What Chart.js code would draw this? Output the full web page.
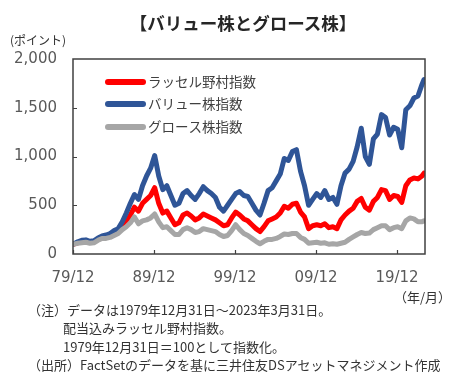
<!DOCTYPE html>
<html lang="ja">
<head>
<meta charset="UTF-8">
<title>バリュー株とグロース株</title>
<script src="https://cdn.jsdelivr.net/npm/chart.js"></script>
<style>
    body { margin: 0; background: #fff; }
    #wrap { position: relative; width: 473px; height: 377px; font-family: "Noto Sans CJK JP", sans-serif; color: #333; }
    #chart { position: absolute; left: 0; top: 0; }
    .txt { position: absolute; white-space: nowrap; line-height: 18px; font-size: 13px; }
    #title { left: 0; width: 486px; top: 10px; text-align: center; font-size: 17.5px; font-weight: bold; line-height: 26px; color: #262626; }
</style>
</head>
<body>
<div id="wrap">
    <canvas id="chart" width="473" height="377"></canvas>
    <div id="title" class="txt">【バリュー株とグロース株】</div>
    <div class="txt" style="left:10px; top:31px; font-size:12px;">(ポイント)</div>
    <div class="txt" style="left:394px; top:288px;">（年/月）</div>
    <div class="txt" style="left:28px; top:301px;">（注）データは1979年12月31日～2023年3月31日。</div>
    <div class="txt" style="left:63px; top:319px;">配当込みラッセル野村指数。</div>
    <div class="txt" style="left:63px; top:338px;">1979年12月31日＝100として指数化。</div>
    <div class="txt" style="left:28px; top:356px;">（出所）FactSetのデータを基に三井住友DSアセットマネジメント作成</div>
</div>
<script>
// 半年ごとの時点（小数表記の年）
const dates = [1979.92, 1980.5, 1981.0, 1981.5, 1982.0, 1982.5, 1983.0, 1983.5, 1984.0, 1984.5,
    1985.0, 1985.5, 1986.0, 1986.5, 1987.0, 1987.5, 1988.0, 1988.5, 1989.0, 1989.5,
    1990.0, 1990.5, 1991.0, 1991.5, 1992.0, 1992.5, 1993.0, 1993.5, 1994.0, 1994.5,
    1995.0, 1995.5, 1996.0, 1996.5, 1997.0, 1997.5, 1998.0, 1998.5, 1999.0, 1999.5,
    2000.0, 2000.5, 2001.0, 2001.5, 2002.0, 2002.5, 2003.0, 2003.5, 2004.0, 2004.5,
    2005.0, 2005.5, 2006.0, 2006.5, 2007.0, 2007.5, 2008.0, 2008.5, 2009.0, 2009.5,
    2010.0, 2010.5, 2011.0, 2011.5, 2012.0, 2012.5, 2013.0, 2013.5, 2014.0, 2014.5,
    2015.0, 2015.5, 2016.0, 2016.5, 2017.0, 2017.5, 2018.0, 2018.5, 2019.0, 2019.5,
    2020.0, 2020.5, 2021.0, 2021.5, 2022.0, 2022.5, 2023.0, 2023.25];

const russell = [100, 115, 125, 130, 120, 125, 150, 170, 175, 185,
    210, 230, 280, 330, 400, 480, 440, 520, 560, 600,
    680, 520, 420, 440, 370, 300, 320, 400, 420, 390,
    350, 370, 410, 390, 370, 350, 320, 290, 300, 370,
    430, 400, 360, 340, 300, 260, 230, 280, 340, 360,
    380, 420, 490, 470, 510, 520, 430, 380, 260, 290,
    300, 290, 310, 270, 280, 260, 350, 400, 440, 470,
    540, 570, 480, 450, 540, 580, 660, 650, 560, 600,
    590, 530, 700, 760, 780, 770, 800, 830];

const valueIdx = [100, 125, 140, 145, 130, 135, 165, 185, 195, 210,
    240, 260, 330, 420, 520, 610, 560, 700, 800, 880,
    1010, 800, 660, 700, 600, 500, 520, 620, 650, 600,
    560, 620, 690, 650, 620, 580, 480, 440, 500, 560,
    620, 640, 600, 590, 520, 450, 400, 520, 650, 680,
    750, 820, 980, 960, 1050, 1070, 850, 700, 500, 560,
    620, 580, 650, 560, 580, 510, 700, 830, 870, 950,
    1100, 1290, 1000, 920, 1180, 1230, 1430, 1400, 1220, 1300,
    1280, 1090, 1480, 1520, 1600, 1620, 1740, 1790];

const growth = [100, 110, 115, 120, 110, 115, 140, 160, 160, 170,
    190, 210, 250, 280, 320, 380, 310, 340, 350, 370,
    410, 330, 270, 280, 240, 200, 200, 250, 270, 250,
    220, 230, 260, 250, 240, 230, 200, 180, 190, 240,
    300, 250, 210, 190, 160, 130, 105, 130, 150, 150,
    160, 180, 205, 200, 210, 210, 170, 150, 110, 115,
    120, 110, 115, 100, 105, 100, 110, 120, 150, 175,
    200, 220, 210, 215, 250, 270, 290, 290, 250, 270,
    280, 260, 340, 370, 360, 330, 330, 340];

const seriesNames = ['ラッセル野村指数', 'バリュー株指数', 'グロース株指数'];
const seriesColors = ['#FF0000', '#2F5597', '#A6A6A6'];

const tickYears = [1979.917, 1989.917, 1999.917, 2009.917, 2019.917];
const tickLabels = ['79/12', '89/12', '99/12', '09/12', '19/12'];
const yTicks = [0, 500, 1000, 1500, 2000];

function toPoints(arr) {
    return arr.map((v, i) => ({ x: dates[i], y: v }));
}

// 枠線・内向きの目盛・凡例
const framePlugin = {
    id: 'frame',
    afterDraw(chart) {
        const ctx = chart.ctx;
        const a = chart.chartArea;
        const xs = chart.scales.x;
        const ys = chart.scales.y;
        ctx.save();
        ctx.strokeStyle = '#404040';
        ctx.lineWidth = 1.5;
        ctx.strokeRect(a.left, a.top, a.right - a.left, a.bottom - a.top);
        ctx.lineWidth = 1.2;
        ctx.beginPath();
        tickYears.forEach(v => {
            const px = Math.round(xs.getPixelForValue(v)) + 0.5;
            ctx.moveTo(px, a.bottom);
            ctx.lineTo(px, a.bottom - 4);
        });
        yTicks.slice(1, -1).forEach(v => {
            const py = Math.round(ys.getPixelForValue(v)) + 0.5;
            ctx.moveTo(a.left, py);
            ctx.lineTo(a.left + 4, py);
        });
        ctx.stroke();

        // 凡例
        const rows = [82, 104, 127];
        ctx.font = '13.5px "Noto Sans CJK JP"';
        ctx.textBaseline = 'middle';
        seriesNames.forEach((name, i) => {
            ctx.strokeStyle = seriesColors[i];
            ctx.lineWidth = 6;
            ctx.lineCap = 'round';
            ctx.beginPath();
            ctx.moveTo(108, rows[i]);
            ctx.lineTo(143, rows[i]);
            ctx.stroke();
            ctx.fillStyle = '#404040';
            ctx.fillText(name, 148, rows[i]);
        });
        ctx.restore();
    }
};

const ctx = document.getElementById('chart').getContext('2d');
const chart = new Chart(ctx, {
    type: 'line',
    data: {
        datasets: [
            { label: seriesNames[0], data: toPoints(russell), borderColor: seriesColors[0], order: 3 },
            { label: seriesNames[1], data: toPoints(valueIdx), borderColor: seriesColors[1], order: 2 },
            { label: seriesNames[2], data: toPoints(growth), borderColor: seriesColors[2], order: 1 },
        ],
    },
    options: {
        responsive: false,
        animation: false,
        devicePixelRatio: 1,
        layout: { padding: { top: 59, right: 48, left: 0, bottom: 0 } },
        elements: {
            line: { borderWidth: 5, tension: 0, borderJoinStyle: 'round', borderCapStyle: 'round' },
            point: { radius: 0 },
        },
        plugins: {
            legend: { display: false },
            tooltip: { enabled: false },
        },
        scales: {
            x: {
                type: 'linear',
                min: 1979.917,
                max: 2023.37,
                afterBuildTicks: scale => { scale.ticks = tickYears.map(v => ({ value: v })); },
                afterFit: scale => { scale.height = 123; },
                grid: { display: false, drawTicks: false },
                border: { display: false },
                ticks: {
                    autoSkip: false,
                    maxRotation: 0,
                    padding: 15,
                    color: '#595959',
                    font: { family: 'DejaVu Sans', size: 15 },
                    callback: (v, i) => tickLabels[i],
                },
            },
            y: {
                min: 0,
                max: 2000,
                afterBuildTicks: scale => { scale.ticks = yTicks.map(v => ({ value: v })); },
                afterFit: scale => { scale.width = 73; },
                grid: { display: false, drawTicks: false },
                border: { display: false },
                ticks: {
                    padding: 16,
                    color: '#595959',
                    font: { family: 'DejaVu Sans', size: 15 },
                    callback: v => v.toLocaleString('en-US'),
                },
            },
        },
    },
    plugins: [framePlugin],
});
</script>
</body>
</html>
